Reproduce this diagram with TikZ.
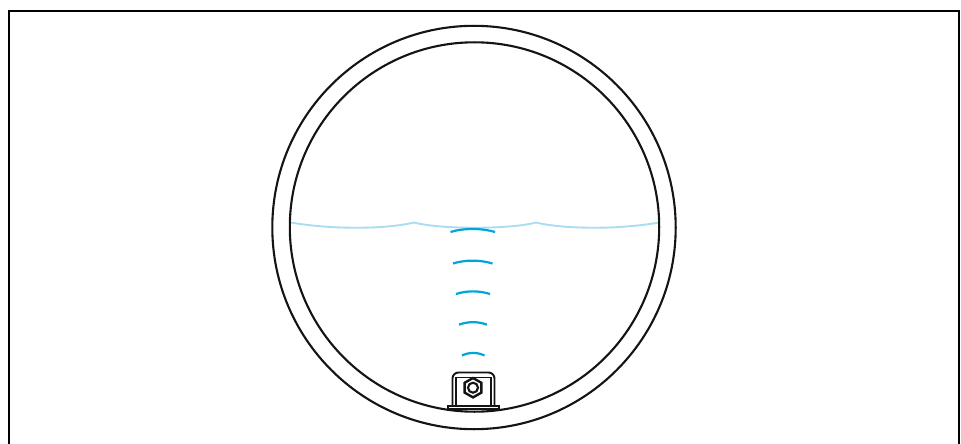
\documentclass[tikz,border=0pt]{standalone}
\definecolor{wave}{RGB}{0,166,214}
\definecolor{water}{RGB}{170,220,242}
\definecolor{ink}{RGB}{20,20,20}
\tikzset{
  px/.style={x=1pt,y=-1pt},
  frameline/.style={black,line width=2pt,line cap=butt},
  shell/.style={ink,line width=2.1pt},
  waterline/.style={water,line width=1.9pt},
  pulse/.style={wave,line width=2.2pt},
  sensor/.style={ink,line width=1.9pt}
}
\begin{document}
\begin{tikzpicture}[px]
\useasboundingbox (0,0) rectangle (961,444);
\fill[white] (0,0) rectangle (961,444);
% frame
\draw[frameline] (9,444) -- (9,11) -- (959,11) -- (959,444);
% water surface
\draw[waterline] (291,222.5) .. controls (330,229.5) and (385,229.5) .. (414,222.5)
  .. controls (440,229.5) and (510,229.5) .. (536,222.5)
  .. controls (565,229.5) and (620,229.5) .. (659,222.5);
% pipe
\draw[shell] (474,227.5) circle[radius=201.7];
\draw[shell] (474.5,227) circle[radius=184.7];
% pulses
\draw[pulse] (450.5,232) .. controls (463,228) and (482,228) .. (495,232);
\draw[pulse] (453,263.5) .. controls (465,259.7) and (480,259.7) .. (492.5,263.5);
\draw[pulse] (456,294) .. controls (467,290.5) and (479,290.5) .. (490,294);
\draw[pulse] (459,324.7) .. controls (468,321.3) and (478,321.3) .. (487,324.7);
\draw[pulse] (462,355.5) .. controls (469,352) and (477,352) .. (484.5,355.5);
% sensor
\fill[white,rounded corners=6pt] (452.5,406) -- (452.5,372.5) -- (494.5,372.5) -- (494.5,406) -- cycle;
\draw[sensor,rounded corners=6pt] (452.5,406) -- (452.5,372.5) -- (494.5,372.5) -- (494.5,406);
\draw[ink,line width=1.1pt] (456,406) -- (456,377.5) -- (491,377.5) -- (491,406);
\fill[white] (473,377.5) -- (481.7,382.6) -- (481.7,392.8) -- (473,397.9) -- (464.3,392.8) -- (464.3,382.6) -- cycle;
\draw[sensor,line width=2.4pt] (473,378) -- (481.4,382.8) -- (481.4,392.6) -- (473,397.4) -- (464.6,392.6) -- (464.6,382.8) -- cycle;
\draw[sensor,line width=2.1pt] (473,387.7) circle[radius=5];
\draw[ink,fill=white,line width=2pt] (447.8,406.4) rectangle (499.2,409.4);
\end{tikzpicture}
\end{document}
